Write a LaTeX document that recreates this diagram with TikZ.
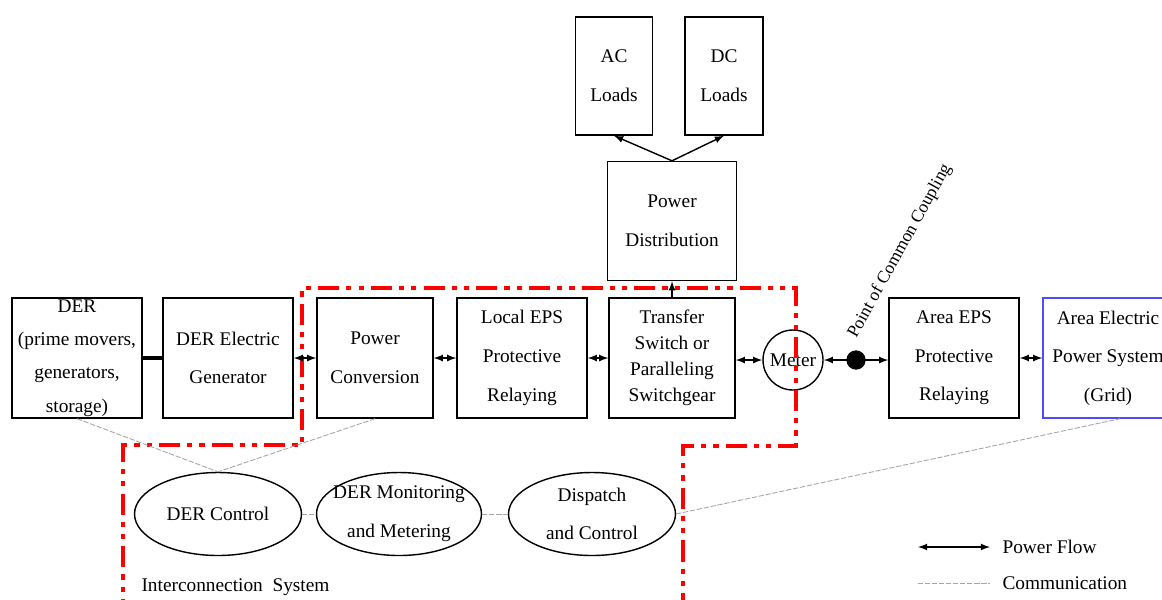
\documentclass[tikz,border=0pt]{standalone}
\usepackage{fontspec}
\setmainfont{Liberation Serif}
\usetikzlibrary{shapes.geometric}

\begin{document}
\begin{tikzpicture}[x=0.02cm,y=-0.02cm,thick,>=latex,
    block/.style={draw,inner sep=0pt,align=center,minimum width=2.6cm,minimum height=2.4cm,font=\fontsize{11}{22}\selectfont},
    unit/.style={draw,ellipse,inner sep=-9pt,align=center,minimum width=3.34cm,minimum height=1.66cm,font=\fontsize{11}{22}\selectfont},
    flow/.style={<->,line width=0.8pt},
    comm/.style={draw=gray!70,line width=0.5pt,dash pattern=on 3pt off 1pt}]
  \colorlet{boundary}{red}
  \colorlet{grid}{blue!70!white}

  \clip (0,0) rectangle (1162,599);

  \node [block] (der) at (77,358)
    [font=\fontsize{11}{19}\selectfont] {DER\\(prime movers,\\generators,\\storage)};
  \node [block] (gen) at (228,358) {DER Electric\\Generator};
  \node [block,minimum width=2.32cm] (conv) at (375,358) {Power\\Conversion};
  \node [block] (local) at (522,358) {Local EPS\\Protective\\Relaying};
  \node [block,minimum width=2.52cm,font=\fontsize{11}{14.8}\selectfont]
    (transfer) at (672,358) {Transfer\\Switch or\\Paralleling\\Switchgear};
  \node [draw,circle,inner sep=0pt,minimum size=1.2cm,font=\fontsize{11}{13}\selectfont]
    (meter) at (793,360) {Meter};
  \node [block] (areaeps) at (954,358) {Area EPS\\Protective\\Relaying};
  \node [block,draw=grid] (grid) at (1108,358) {Area Electric\\Power System\\(Grid)};
  \node [block,minimum width=2.58cm,minimum height=2.38cm] (dist) at (672,221) {Power\\Distribution};
  \node [block,minimum width=1.54cm,minimum height=2.36cm] (ac) at (614,76) {AC\\Loads};
  \node [block,minimum width=1.56cm,minimum height=2.36cm] (dc) at (724,76) {DC\\Loads};

  \node [unit] (control) at (218,514) {DER Control};
  \node [unit,minimum width=3.3cm] (monitor) at (399,514) {DER Monitoring\\and Metering};
  \node [unit] (dispatch) at (592,514) {Dispatch\\and Control};

  \node [anchor=west,font=\fontsize{11}{13}\selectfont] (icsys) at (135,587) {Interconnection\ \ System};

  \draw [boundary,line width=2pt,dash pattern=on 12pt off 4pt on 3pt off 4pt on 3pt off 4pt]
    (123,620) -- (123,445) -- (302,445) -- (302,288) -- (796,288)
    -- (796,446) -- (683,446) -- (683,620);

  \draw [line width=2pt] (der) -- (gen);
  \foreach \a/\b in {gen/conv,conv/local,local/transfer,areaeps/grid}
    \draw [flow] (\a) -- (\b);
  \draw [flow] (transfer.east |- meter) -- (meter);
  \draw [flow] (meter) -- (areaeps.west |- meter);
  \node [fill,circle,inner sep=0pt,minimum size=11pt] (pcc) at (856,360) {};
  \node [rotate=61,font=\fontsize{10}{12}\selectfont] (pcclabel) at (900,251) {Point of Common Coupling};

  \draw [->,line width=0.8pt] (transfer) -- (dist);
  \draw [->,line width=0.8pt] (dist.north) -- (ac.south);
  \draw [->,line width=0.8pt] (dist.north) -- (dc.south);

  \draw [comm] (der.south) -- (control.north);
  \draw [comm] (conv.south) -- (control.north);
  \draw [comm] (control) -- (monitor);
  \draw [comm] (monitor) -- (dispatch);
  \draw [comm] (dispatch.east) -- ([xshift=0.24cm]grid.south);

  \coordinate (flowa) at (918,547);
  \coordinate (flowb) at (990,547);
  \coordinate (comma) at (918,583);
  \coordinate (commb) at (990,583);
  \draw [flow] (flowa) -- (flowb);
  \draw [comm] (comma) -- (commb);
  \node [anchor=west,font=\fontsize{11}{13}\selectfont] (flowtext) at (996,547) {Power Flow};
  \node [anchor=west,font=\fontsize{11}{13}\selectfont] (commtext) at (996,583) {Communication};
\end{tikzpicture}
\end{document}
